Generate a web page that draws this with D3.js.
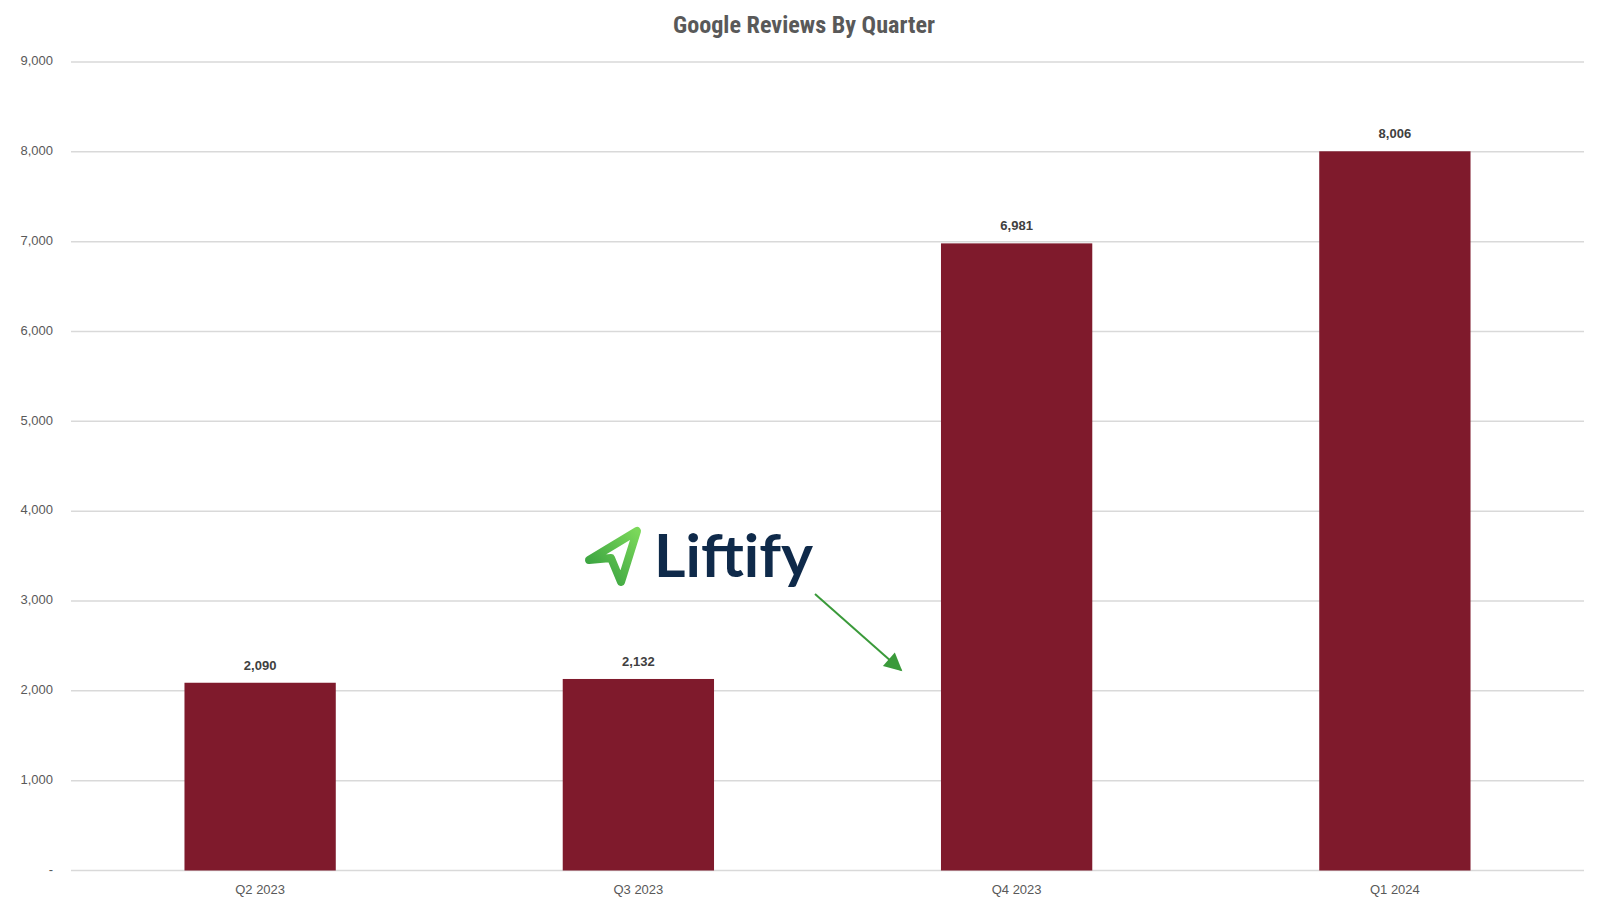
<!DOCTYPE html>
<html><head><meta charset="utf-8">
<script src="https://cdn.jsdelivr.net/npm/d3@7/dist/d3.min.js"></script>
<style>html,body{margin:0;padding:0;background:#fff;}svg{display:block;}</style>
</head><body>
<script>
const categories = ["Q2 2023", "Q3 2023", "Q4 2023", "Q1 2024"];
const reviews = [2090, 2132, 6981, 8006];
const yTicks = [0, 1000, 2000, 3000, 4000, 5000, 6000, 7000, 8000, 9000];
const titleText = "Google Reviews By Quarter";
const logoText = "Liftify";

(function () {
const W = 1600, H = 904;
const svg = d3.select("body").append("svg").attr("width", W).attr("height", H);
const pLeft = 71, pRight = 1584, pTop = 62, pBottom = 870.5;

const x = d3.scaleBand().domain(categories).range([pLeft, pRight]).paddingInner(0.6).paddingOuter(0.3);
const y = d3.scaleLinear().domain([0, 9000]).range([pBottom, pTop]);

// gridlines
svg.append("g").selectAll("line").data(yTicks).join("line")
  .attr("x1", pLeft).attr("x2", pRight)
  .attr("y1", d => y(d)).attr("y2", d => y(d))
  .attr("stroke", "#d9d9d9").attr("stroke-width", 1.5);

// y axis labels
const yAxis = d3.axisLeft(y).tickValues(yTicks).tickSize(0).tickPadding(0)
  .tickFormat(d => d === 0 ? "-" : d3.format(",")(d));
const gy = svg.append("g").attr("transform", `translate(53,-1.5)`).call(yAxis);
gy.select(".domain").remove();
gy.selectAll("text").attr("font-family", "Liberation Sans, Arial, sans-serif")
  .attr("font-size", 13).attr("fill", "#595959");

// bars
svg.append("g").selectAll("rect").data(reviews).join("rect")
  .attr("x", (d, i) => x(categories[i])).attr("width", x.bandwidth())
  .attr("y", d => y(d)).attr("height", d => y(0) - y(d))
  .attr("fill", "#7f1a2c");

// value labels
svg.append("g").selectAll("text").data(reviews).join("text")
  .attr("x", (d, i) => x(categories[i]) + x.bandwidth() / 2)
  .attr("y", d => y(d) - 13)
  .attr("text-anchor", "middle")
  .attr("font-family", "Liberation Sans, Arial, sans-serif")
  .attr("font-weight", "bold").attr("font-size", 13).attr("fill", "#404040")
  .text(d => d3.format(",")(d));

// x axis
const xAxis = d3.axisBottom(x).tickSize(0).tickPadding(0);
const gx = svg.append("g").attr("transform", `translate(0,${pBottom})`).call(xAxis);
gx.select(".domain").remove();
gx.selectAll("text").attr("y", 23).attr("dy", 0)
  .attr("font-family", "Liberation Sans, Arial, sans-serif")
  .attr("font-size", 13).attr("fill", "#595959");

// title
svg.append("text").attr("x", 804).attr("y", 33).attr("text-anchor", "middle")
  .attr("font-family", "Liberation Sans Narrow, Roboto Condensed, Arial Narrow, sans-serif")
  .attr("font-weight", "bold").attr("font-size", 23).attr("fill", "#595959")
  .attr("textLength", 262).attr("lengthAdjust", "spacingAndGlyphs")
  .text(titleText);

// logo
const defs = svg.append("defs");
const grad = defs.append("linearGradient").attr("id", "lg").attr("x1", "0").attr("y1", "1").attr("x2", "1").attr("y2", "0");
grad.append("stop").attr("offset", "0%").attr("stop-color", "#2f9a3c");
grad.append("stop").attr("offset", "100%").attr("stop-color", "#7bd85a");
svg.append("path")
  .attr("d", "M589,560 L637,531 L621,582 L611,558 Z")
  .attr("fill", "none").attr("stroke", "url(#lg)").attr("stroke-width", 8)
  .attr("stroke-linejoin", "round");
svg.append("text").attr("x", 654).attr("y", 577)
  .attr("font-family", "Lato, Inter, sans-serif").attr("font-weight", "bold")
  .attr("font-size", 60).attr("fill", "#0f2a4a")
  .attr("textLength", 159).attr("lengthAdjust", "spacingAndGlyphs")
  .text(logoText);

// arrow
defs.append("marker").attr("id", "ah").attr("viewBox", "0 0 10 10").attr("refX", 9).attr("refY", 5)
  .attr("markerUnits", "userSpaceOnUse")
  .attr("orient", "auto").attr("markerWidth", 22).attr("markerHeight", 18)
  .append("path").attr("d", "M0,0 L10,5 L0,10 Z").attr("fill", "#3a9a3a");
svg.append("line").attr("x1", 815).attr("y1", 594).attr("x2", 901).attr("y2", 670)
  .attr("stroke", "#3a9a3a").attr("stroke-width", 2).attr("marker-end", "url(#ah)");
})();
</script>
</body></html>
